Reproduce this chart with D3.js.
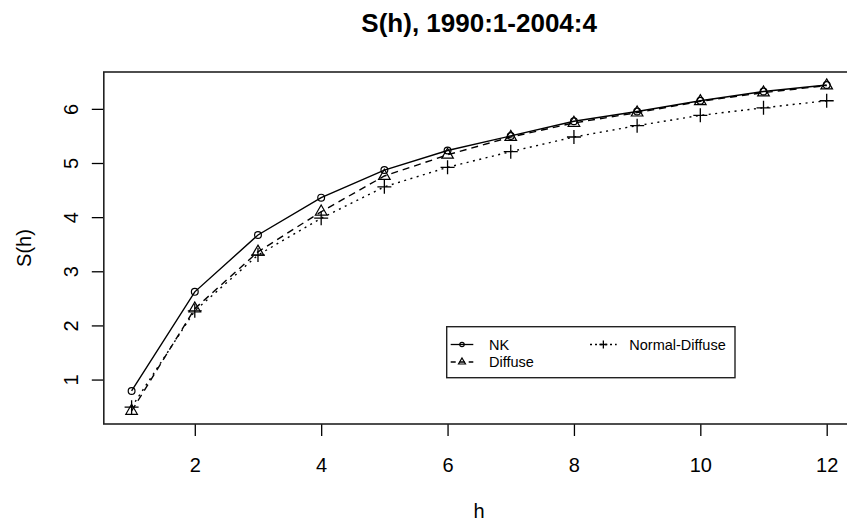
<!DOCTYPE html>
<html>
<head>
<meta charset="utf-8">
<script src="https://cdn.jsdelivr.net/npm/d3@7"></script>
<style>
  html, body { margin: 0; padding: 0; background: #fff; }
  svg { display: block; }
  text { font-family: "Liberation Sans", Arial, Helvetica, sans-serif; fill: #000; }
</style>
</head>
<body>
<svg id="chart" width="847" height="529"></svg>
<script>
// ---- data ----
const horizons = [1, 2, 3, 4, 5, 6, 7, 8, 9, 10, 11, 12];
const nkValues = [0.79, 2.62, 3.67, 4.36, 4.87, 5.23, 5.50, 5.77, 5.95, 6.15, 6.32, 6.44];
const diffuseValues = [0.42, 2.31, 3.36, 4.10, 4.76, 5.15, 5.48, 5.74, 5.93, 6.14, 6.30, 6.43];
const normalDiffuseValues = [0.49, 2.27, 3.30, 3.98, 4.56, 4.92, 5.21, 5.48, 5.69, 5.88, 6.02, 6.15];
const seriesNames = ["NK", "Diffuse", "Normal-Diffuse"];
const xTicks = [2, 4, 6, 8, 10, 12];
const yTicks = [1, 2, 3, 4, 5, 6];
const titleText = "S(h), 1990:1-2004:4";
const xLabel = "h";
const yLabel = "S(h)";

// ---- layout ----
const svg = d3.select("#chart");
const plot = { left: 103.8, right: 854.5, top: 72, bottom: 424 };

function padded(ext) {
  const d = (ext[1] - ext[0]) * 0.04;
  return [ext[0] - d, ext[1] + d];
}
const allY = nkValues.concat(diffuseValues, normalDiffuseValues);
const x = d3.scaleLinear().domain(padded(d3.extent(horizons))).range([plot.left, plot.right]);
const y = d3.scaleLinear().domain(padded(d3.extent(allY))).range([plot.bottom, plot.top]);

const series = [
  { name: seriesNames[0], values: nkValues, dash: null, shape: "circle" },
  { name: seriesNames[1], values: diffuseValues, dash: "7,5", shape: "triangle" },
  { name: seriesNames[2], values: normalDiffuseValues, dash: "2,4.5", shape: "plus" }
];

function drawSymbol(g, shape, cx, cy, s) {
  if (shape === "circle") {
    g.append("circle").attr("cx", cx).attr("cy", cy).attr("r", s)
      .attr("fill", "none").attr("stroke", "#000").attr("stroke-width", 1.2);
  } else if (shape === "triangle") {
    const r = 1.5551 * s, yc = 0.7776 * s, xc = 1.3468 * s;
    g.append("path")
      .attr("d", `M${cx},${cy - r}L${cx + xc},${cy + yc}L${cx - xc},${cy + yc}Z`)
      .attr("fill", "none").attr("stroke", "#000").attr("stroke-width", 1.2);
  } else {
    const h = s;
    g.append("path")
      .attr("d", `M${cx - h},${cy}H${cx + h}M${cx},${cy - h}V${cy + h}`)
      .attr("fill", "none").attr("stroke", "#000").attr("stroke-width", 1.3);
  }
}
const symSize = { circle: 3.4, triangle: 4.3, plus: 7 };
const legSize = { circle: 2.2, triangle: 2.6, plus: 4 };

// ---- axes ----
const xAxis = d3.axisBottom(x).tickValues(xTicks).tickSize(12).tickPadding(8).tickFormat(d3.format("d"));
const gx = svg.append("g").attr("transform", `translate(0,${plot.bottom})`).call(xAxis);
gx.select(".domain").remove();
gx.selectAll(".tick line").attr("stroke", "#000").attr("stroke-width", 1.3);
gx.selectAll(".tick text").attr("font-size", 20).attr("dy", "0.71em").attr("y", 34).style("fill", "#000");

const yAxis = d3.axisLeft(y).tickValues(yTicks).tickSize(12).tickFormat(d3.format("d"));
const gy = svg.append("g").attr("transform", `translate(${plot.left},0)`).call(yAxis);
gy.select(".domain").remove();
gy.selectAll(".tick line").attr("stroke", "#000").attr("stroke-width", 1.3);
gy.selectAll(".tick text")
  .attr("font-size", 20)
  .attr("x", null).attr("dy", null)
  .attr("text-anchor", "middle")
  .attr("transform", "translate(-26,0) rotate(-90)")
  .attr("y", 0)
  .style("fill", "#000");

// ---- lines and points ----
const line = d3.line().x((d, i) => x(horizons[i])).y(d => y(d));
series.forEach(s => {
  svg.append("path").datum(s.values)
    .attr("d", line)
    .attr("fill", "none").attr("stroke", "#000").attr("stroke-width", 1.4)
    .attr("stroke-dasharray", s.dash);
  const g = svg.append("g");
  s.values.forEach((v, i) => drawSymbol(g, s.shape, x(horizons[i]), y(v), symSize[s.shape]));
});

// ---- box ----
svg.append("rect")
  .attr("x", plot.left).attr("y", plot.top)
  .attr("width", plot.right - plot.left).attr("height", plot.bottom - plot.top)
  .attr("fill", "none").attr("stroke", "#222").attr("stroke-width", 1.6);

// ---- titles ----
svg.append("text").attr("x", (plot.left + plot.right) / 2).attr("y", 32)
  .attr("text-anchor", "middle").attr("font-size", 26).attr("font-weight", "bold").text(titleText);
svg.append("text").attr("x", (plot.left + plot.right) / 2).attr("y", 518)
  .attr("text-anchor", "middle").attr("font-size", 20).text(xLabel);
svg.append("text").attr("transform", `translate(31,${(plot.top + plot.bottom) / 2}) rotate(-90)`)
  .attr("text-anchor", "middle").attr("font-size", 20).text(yLabel);

// ---- legend ----
const leg = svg.append("g");
leg.append("rect").attr("x", 446.7).attr("y", 326.7).attr("width", 288.3).attr("height", 51)
  .attr("fill", "#fff").attr("stroke", "#222").attr("stroke-width", 1.4);
const legPos = [
  { lx0: 450.7, lx1: 473.3, tx: 489, cy: 344.5 },
  { lx0: 450.7, lx1: 473.3, tx: 489, cy: 362 },
  { lx0: 590, lx1: 616.7, tx: 629.3, cy: 344.5 }
];
series.forEach((s, i) => {
  const p = legPos[i];
  leg.append("line").attr("x1", p.lx0).attr("x2", p.lx1).attr("y1", p.cy).attr("y2", p.cy)
    .attr("stroke", "#000").attr("stroke-width", 1.3).attr("stroke-dasharray", s.dash ? (s.shape === "plus" ? "2,3" : "5,4") : null);
  drawSymbol(leg, s.shape, (p.lx0 + p.lx1) / 2, p.cy, legSize[s.shape]);
  leg.append("text").attr("x", p.tx).attr("y", p.cy + 5).attr("font-size", 14.5).text(s.name);
});
</script>
</body>
</html>
